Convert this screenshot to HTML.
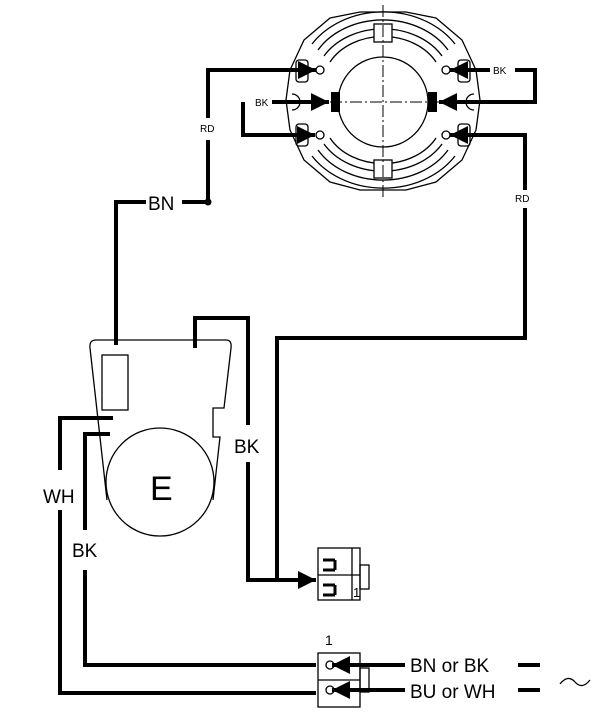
<!DOCTYPE html>
<html><head><style>body{margin:0;background:#fff}svg{display:block}text{font-family:"Liberation Sans",sans-serif}</style></head><body>
<svg width="615" height="720" viewBox="0 0 615 720" xmlns="http://www.w3.org/2000/svg">
<defs><marker id="a" viewBox="0 0 10 10" refX="10" refY="5" markerWidth="4.5" markerHeight="4.5" orient="auto"><path d="M0,0L10,5L0,10z" fill="#000"/></marker></defs>
<g fill="none" stroke="#000" stroke-width="1.3">
<path d="M330,18 L360,12 L406,12 L436,18 L462,40 L476,70 L480,100 L476,130 L462,160 L436,182 L406,190 L360,190 L330,182 L304,160 L290,130 L286,100 L290,70 L304,40 Z"/>
<path d="M312,44 A85,70 0 0 1 455,44"/>
<path d="M318,50 A75,60 0 0 1 448,50"/><path d="M324,56 A68,54 0 0 1 442,56"/><path d="M330,62 A60,48 0 0 1 436,62"/>
<path d="M312,156 A85,70 0 0 0 455,156"/>
<path d="M318,150 A75,60 0 0 0 448,150"/><path d="M324,144 A68,54 0 0 0 442,144"/><path d="M330,138 A60,48 0 0 0 436,138"/>
<rect x="374" y="24" width="18" height="18" fill="#fff"/><rect x="374" y="160" width="18" height="18" fill="#fff"/>
<circle cx="383" cy="102" r="45"/>
<rect x="296" y="60" width="12" height="22" rx="3"/><rect x="296" y="124" width="12" height="22" rx="3"/>
<rect x="458" y="60" width="12" height="22" rx="3"/><rect x="458" y="124" width="12" height="22" rx="3"/>
<circle cx="320" cy="70" r="4"/><circle cx="320" cy="135" r="4"/><circle cx="446" cy="70" r="4"/><circle cx="446" cy="135" r="4"/>
<path d="M292,94 A8,8 0 0 1 292,110"/><path d="M474,94 A8,8 0 0 0 474,110"/>
<path d="M383,5 V200 M330,102 H440" stroke-dasharray="12,3,2,3" stroke-width="1"/>
</g>
<rect x="331" y="92" width="9" height="20"/><rect x="428" y="92" width="9" height="20"/>
<g fill="none" stroke="#000" stroke-width="4">
<path d="M116,345 V202 H146 M182,202 H208 V140 M208,118 V70 H316" marker-end="url(#a)"/>
<path d="M272,102 H329" marker-end="url(#a)"/>
<path d="M243,102 V135 H315" marker-end="url(#a)"/>
<path d="M490,70 H450" marker-end="url(#a)"/>
<path d="M515,70 H535 V102 H439" marker-end="url(#a)"/>
<path d="M525,190 V135 H450" marker-end="url(#a)"/>
<path d="M525,208 V338 H277 V580"/>
<path d="M195,348 V318 H248 V425 M248,462 V580 H316" marker-end="url(#a)"/>
<path d="M113,418 H60 V470 M60,510 V693 H316"/>
<path d="M110,434 H85 V530 M85,570 V665 H316"/>
<path d="M405,665 H332" marker-end="url(#a)"/>
<path d="M405,690 H332" marker-end="url(#a)"/>
<path d="M518,665 H540 M518,690 H540"/>
</g>
<circle cx="208" cy="202" r="3.5"/>
<g fill="none" stroke="#000" stroke-width="1.3">
<path d="M96,340 H226 Q232,340 231,348 L224,408 H213 V437 H220 L213,500 M107,500 L90,348 Q89,340 96,340"/>
<rect x="102" y="355" width="26" height="55"/>
<circle cx="160" cy="482" r="54"/>
<rect x="318" y="548" width="42" height="52"/><path d="M318,575 H360 M352,548 V600"/><rect x="360" y="565" width="9" height="24"/>
<rect x="318" y="653" width="42" height="54"/><path d="M318,680 H360"/><rect x="360" y="668" width="9" height="24"/>
<circle cx="330" cy="665" r="4"/><circle cx="330" cy="690" r="4"/>
<path d="M323,560 H335 M323,570 H335 M335,560 V570 M323,585 H335 M323,595 H335 M335,585 V595" stroke-width="3"/>
<path d="M560,684 Q568,674 575,682 Q582,690 590,680"/>
</g>
<g font-size="10"><text x="200" y="132">RD</text><text x="515" y="202">RD</text><text x="255" y="106">BK</text><text x="493" y="74">BK</text></g>
<g font-size="19"><text x="148" y="210">BN</text><text x="234" y="453">BK</text><text x="43" y="503">WH</text><text x="72" y="557">BK</text>
<text x="410" y="672">BN or BK</text><text x="410" y="698">BU or WH</text><text x="325" y="645" font-size="14">1</text><text x="353" y="597" font-size="13">1</text></g>
<text x="150" y="500" font-size="34">E</text>
</svg>
</body></html>
